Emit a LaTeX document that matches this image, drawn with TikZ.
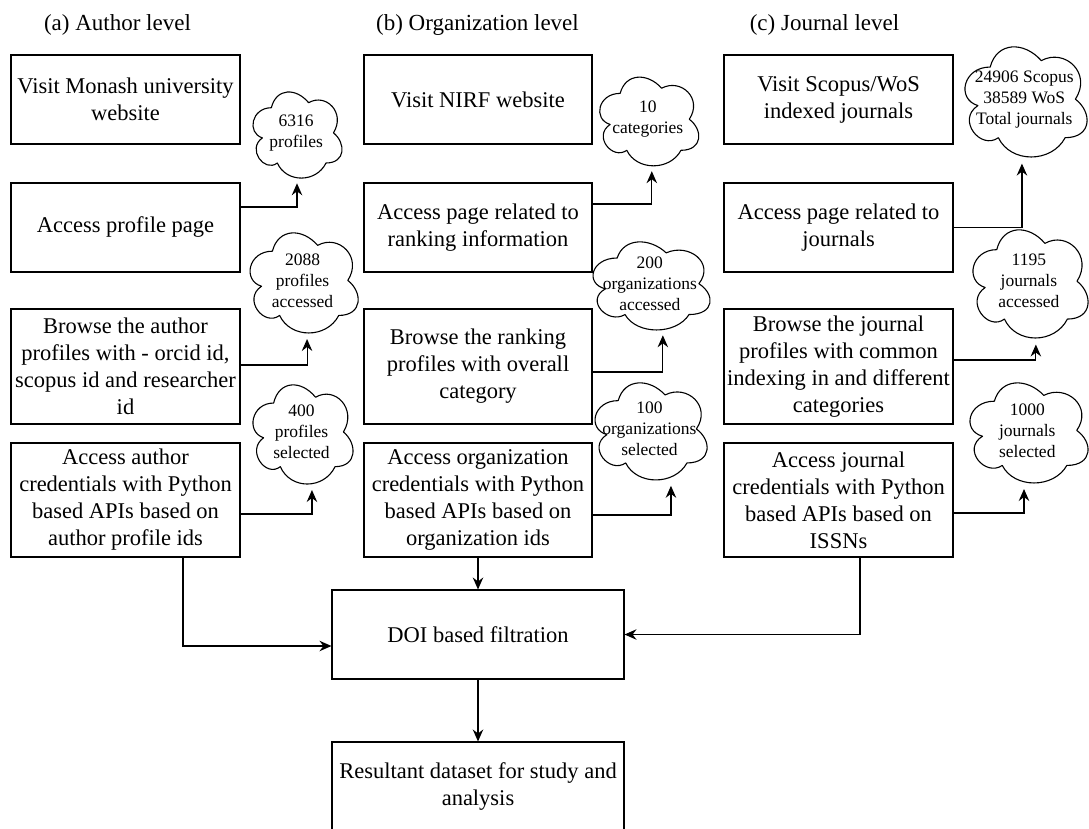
\documentclass[tikz,border=0pt]{standalone}
\usepackage{fontspec}
\setmainfont{Liberation Serif}
\usetikzlibrary{arrows.meta}

\tikzset{
  stepbox/.style={draw, line width=1.1pt, inner sep=0pt, align=center,
    font=\fontsize{22.5}{27}\selectfont, minimum width=229pt, minimum height=89pt},
  tallbox/.style={stepbox, minimum height=115pt},
  widebox/.style={stepbox, minimum width=292pt},
  cloudtext/.style={inner sep=0pt, align=center, font=\fontsize{17.5}{21}\selectfont},
  cloudline/.style={draw, line width=1.1pt, line join=round},
  flow/.style={line width=1.1pt, -{Stealth[length=12pt, width=10.5pt, inset=4pt]}},
  heading/.style={font=\fontsize{23}{27}\selectfont, inner sep=0pt},
}

% cloud callout: name, left, top, width, height, text
\newcommand\cloudnote[6]{%
  \node[cloudtext, minimum width=#4pt, minimum height=#5pt] (#1) at (#2+#4/2, #3+#5/2) {#6};
  \begin{scope}[shift={(#2,#3)}, x=#4pt, y=-#5pt]
    \draw[cloudline] (0.25,0.25) .. controls (0.05,0.25) and (0,0.5) .. (0.16,0.55)
      .. controls (0,0.66) and (0.18,0.9) .. (0.31,0.8)
      .. controls (0.4,1) and (0.7,1) .. (0.8,0.8)
      .. controls (1,0.8) and (1,0.6) .. (0.875,0.5)
      .. controls (1,0.3) and (0.8,0.1) .. (0.625,0.2)
      .. controls (0.5,0.05) and (0.3,0.05) .. cycle;
  \end{scope}%
}

\begin{document}
\begin{tikzpicture}[x=1pt, y=-1pt]
\useasboundingbox (0,0) rectangle (1089,828);

% column headings
\node[heading] (ta) at (117.5,25) {(a) Author level};
\node[heading] (tb) at (477.5,25) {(b) Organization level};
\node[heading] (tc) at (824.5,25) {(c) Journal level};

% author level
\node[stepbox] (a1) at (125.5,99.5) {Visit Monash university\\website};
\node[stepbox] (a2) at (125.5,227.5) {Access profile page};
\node[tallbox] (a3) at (125.5,366.5) {Browse the author\\profiles with - orcid id,\\scopus id and researcher\\id};
\node[tallbox, minimum height=114pt] (a4) at (125.5,500) {Access author\\credentials with Python\\based APIs based on\\author profile ids};

% organization level
\node[stepbox, minimum width=228pt] (b1) at (478,99.5) {Visit NIRF website};
\node[stepbox, minimum width=228pt] (b2) at (478,227.5) {Access page related to\\ranking information};
\node[tallbox, minimum width=228pt] (b3) at (478,366.5) {Browse the ranking\\profiles with overall\\category};
\node[tallbox, minimum width=228pt, minimum height=114pt] (b4) at (478,500) {Access organization\\credentials with Python\\based APIs based on\\organization ids};

% journal level
\node[stepbox] (c1) at (838.5,99.5) {Visit Scopus/WoS\\indexed journals};
\node[stepbox] (c2) at (838.5,227.5) {Access page related to\\journals};
\node[tallbox] (c3) at (838.5,366.5) {Browse the journal\\profiles with common\\indexing in and different\\categories};
\node[tallbox, minimum height=114pt] (c4) at (838.5,500) {Access journal\\credentials with Python\\based APIs based on\\ISSNs};

% merging steps
\node[widebox] (doi) at (478,634.5) {DOI based filtration};
\node[widebox] (res) at (478,786.5) {Resultant dataset for study and\\analysis};

% counts
\cloudnote{ca1}{246.5}{82.6}{99.4}{100.5}{6316\\profiles}
\cloudnote{ca2}{242.2}{222}{120.7}{116.8}{2088\\profiles\\accessed}
\cloudnote{ca3}{245.7}{374.1}{111.7}{115.7}{400\\profiles\\selected}
\cloudnote{cb1}{592.5}{67.5}{110.6}{103.5}{10\\categories}
\cloudnote{cb2}{584.5}{232.3}{130.7}{102.8}{200\\organizations\\accessed}
\cloudnote{cb3}{586.9}{372.3}{125.1}{113.3}{100\\organizations\\selected}
\cloudnote{cc1}{956.1}{34.9}{136.3}{128.5}{24906 Scopus\\38589 WoS\\Total journals}
\cloudnote{cc2}{964.6}{218.1}{128.5}{126.2}{1195\\journals\\accessed}
\cloudnote{cc3}{961.4}{372}{131.8}{116.8}{1000\\journals\\selected}

% step to count arrows
\draw[flow] ([yshift=20.5pt]a2.east) -| ([xshift=0.8pt]ca1.south);
\draw[flow] ([yshift=1.5pt]a3.east) -| ([xshift=4.5pt]ca2.south);
\draw[flow] ([yshift=-14pt]a4.east) -| ([xshift=10.4pt]ca3.south);
\draw[flow] ([yshift=23.5pt]b2.east) -| ([xshift=4pt]cb1.south);
\draw[flow] ([yshift=-5.5pt]b3.east) -| ([xshift=13pt]cb2.south);
\draw[flow] ([yshift=-15pt]b4.east) -| ([xshift=21.5pt]cb3.south);
\draw[flow] (c2.east) -| ([xshift=-2.3pt]cc1.south);
\draw[flow] ([yshift=6.5pt]c3.east) -| ([xshift=7pt]cc2.south);
\draw[flow] ([yshift=-13pt]c4.east) -| ([xshift=-3.3pt]cc3.south);

% merge into filtration
\draw[flow] (b4.south) -- (doi.north);
\draw[flow] ([xshift=57.5pt]a4.south) |- ([yshift=-11.5pt]doi.west);
\draw[flow] ([xshift=21.5pt]c4.south) |- (doi.east);
\draw[flow] (doi.south) -- (res.north);
\end{tikzpicture}
\end{document}
